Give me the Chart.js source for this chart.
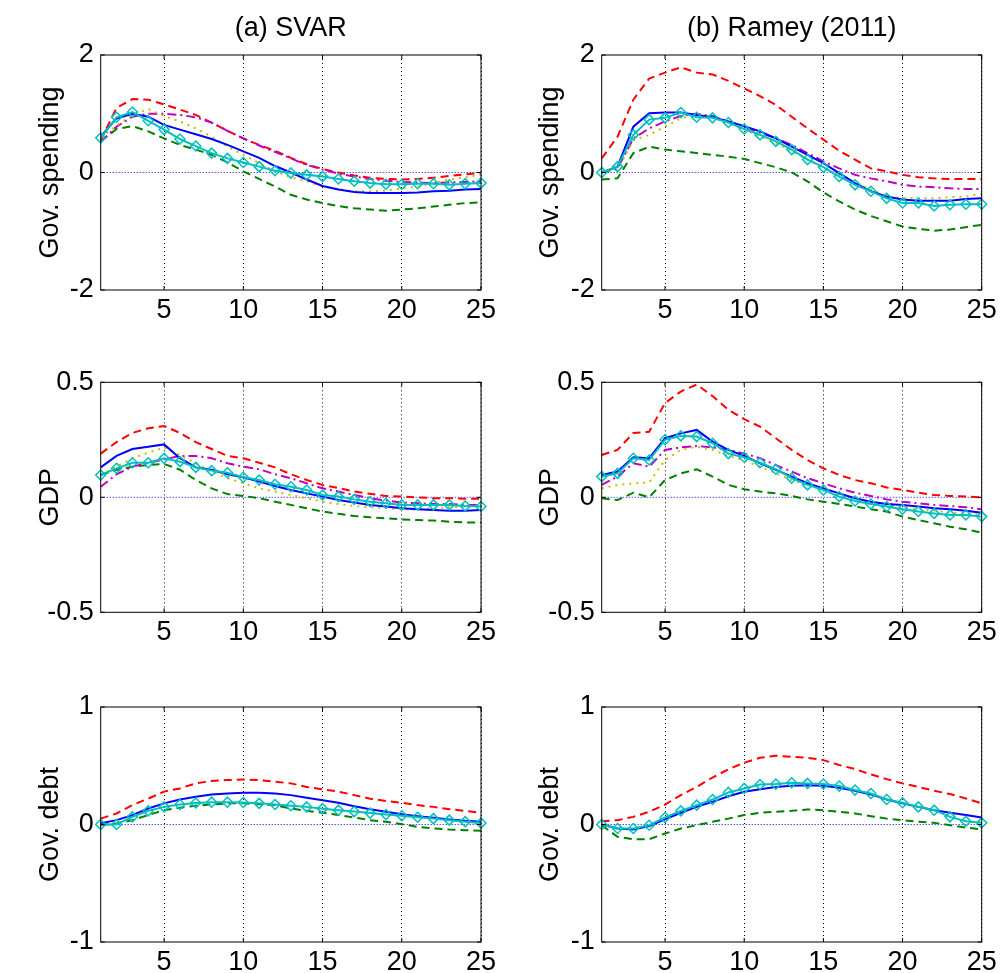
<!DOCTYPE html>
<html>
<head>
<meta charset="utf-8">
<script src="https://cdn.jsdelivr.net/npm/chart.js@4.4.0/dist/chart.umd.min.js"></script>
<style>
  body { margin: 0; background: #fff; }
  #wrap { position: relative; width: 1000px; height: 973px; }
  canvas { position: absolute; }
</style>
</head>
<body>
<div id="wrap">
  <canvas id="c1" width="500" height="330" style="left:0;top:0"></canvas>
  <canvas id="c2" width="500" height="330" style="left:500px;top:0"></canvas>
  <canvas id="c3" width="500" height="330" style="left:0;top:330px"></canvas>
  <canvas id="c4" width="500" height="330" style="left:500px;top:330px"></canvas>
  <canvas id="c5" width="500" height="313" style="left:0;top:660px"></canvas>
  <canvas id="c6" width="500" height="313" style="left:500px;top:660px"></canvas>
</div>
<script>
// horizons and ticks
var horizons = [1,2,3,4,5,6,7,8,9,10,11,12,13,14,15,16,17,18,19,20,21,22,23,24,25];
var xTicks = [5,10,15,20,25];
var govTicks = [-2,0,2];
var gdpTicks = [-0.5,0,0.5];
var debtTicks = [-1,0,1];

// (a) SVAR - gov. spending
var svarGovCyan = [0.59,0.94,1.03,0.88,0.73,0.57,0.45,0.33,0.24,0.17,0.10,0.03,-0.01,-0.04,-0.07,-0.11,-0.15,-0.18,-0.20,-0.20,-0.19,-0.19,-0.21,-0.19,-0.18];
var svarGovBlue = [0.61,0.92,1.0,0.95,0.81,0.73,0.65,0.57,0.47,0.36,0.25,0.11,0.0,-0.12,-0.23,-0.29,-0.33,-0.35,-0.35,-0.35,-0.34,-0.32,-0.31,-0.29,-0.28];
var svarGovYellow = [0.6,0.8,0.98,1.08,0.96,0.87,0.75,0.61,0.44,0.30,0.16,0.02,-0.08,-0.15,-0.24,-0.29,-0.32,-0.32,-0.31,-0.27,-0.24,-0.18,-0.12,-0.08,-0.04];
var svarGovMagenta = [0.52,0.78,0.95,1.0,1.0,0.98,0.94,0.85,0.71,0.58,0.46,0.35,0.24,0.13,0.05,-0.02,-0.07,-0.11,-0.14,-0.16,-0.17,-0.18,-0.17,-0.16,-0.15];
var svarGovGreen = [0.53,0.74,0.79,0.70,0.58,0.47,0.39,0.30,0.17,0.02,-0.11,-0.24,-0.38,-0.46,-0.52,-0.57,-0.61,-0.63,-0.65,-0.63,-0.61,-0.58,-0.55,-0.52,-0.51];
var svarGovRed = [0.55,1.1,1.25,1.24,1.16,1.07,0.98,0.85,0.71,0.58,0.47,0.37,0.25,0.14,0.06,0.0,-0.05,-0.09,-0.11,-0.12,-0.11,-0.09,-0.06,-0.03,-0.01];

// (b) Ramey - gov. spending
var rameyGovCyan = [0,0.1,0.64,0.90,0.93,1.02,0.94,0.93,0.85,0.74,0.64,0.53,0.39,0.22,0.09,-0.07,-0.21,-0.32,-0.44,-0.52,-0.52,-0.57,-0.55,-0.54,-0.54];
var rameyGovBlue = [0,0.1,0.78,1.01,1.02,1.02,0.98,0.94,0.87,0.79,0.70,0.58,0.44,0.30,0.16,-0.01,-0.18,-0.32,-0.41,-0.46,-0.48,-0.48,-0.48,-0.45,-0.44];
var rameyGovYellow = [0,0.05,0.55,0.64,0.78,0.92,1.0,0.94,0.84,0.74,0.62,0.50,0.36,0.22,0.07,-0.04,-0.18,-0.29,-0.40,-0.44,-0.44,-0.44,-0.42,-0.41,-0.36];
var rameyGovMagenta = [0,0.07,0.58,0.75,0.87,0.96,1.0,0.96,0.87,0.78,0.68,0.58,0.47,0.33,0.19,0.07,-0.04,-0.10,-0.15,-0.21,-0.24,-0.25,-0.27,-0.28,-0.28];
var rameyGovGreen = [-0.12,-0.10,0.33,0.44,0.39,0.36,0.33,0.30,0.27,0.23,0.16,0.09,0.0,-0.15,-0.34,-0.49,-0.63,-0.74,-0.83,-0.92,-0.96,-0.99,-0.97,-0.93,-0.89];
var rameyGovRed = [0.24,0.61,1.24,1.60,1.70,1.79,1.70,1.67,1.56,1.43,1.30,1.15,0.95,0.75,0.56,0.37,0.22,0.07,0.02,-0.04,-0.08,-0.10,-0.11,-0.11,-0.11];

// (a) SVAR - GDP
var svarGdpCyan = [0.097,0.126,0.15,0.15,0.17,0.155,0.13,0.116,0.107,0.087,0.075,0.057,0.046,0.032,0.01,0.003,-0.009,-0.019,-0.026,-0.033,-0.033,-0.033,-0.033,-0.038,-0.04];
var svarGdpBlue = [0.13,0.18,0.21,0.22,0.23,0.17,0.13,0.12,0.10,0.087,0.068,0.049,0.032,0.017,0.003,-0.012,-0.023,-0.033,-0.04,-0.048,-0.052,-0.055,-0.058,-0.058,-0.055];
var svarGdpYellow = [0.097,0.133,0.17,0.194,0.217,0.184,0.148,0.112,0.083,0.061,0.039,0.025,0.01,-0.004,-0.019,-0.029,-0.038,-0.043,-0.048,-0.052,-0.052,-0.048,-0.043,-0.04,-0.038];
var svarGdpMagenta = [0.046,0.10,0.133,0.15,0.165,0.18,0.18,0.17,0.148,0.133,0.122,0.10,0.083,0.061,0.039,0.025,0.01,-0.004,-0.014,-0.023,-0.026,-0.029,-0.029,-0.033,-0.033];
var svarGdpGreen = [0.097,0.12,0.133,0.14,0.145,0.12,0.075,0.039,0.014,0.006,-0.004,-0.019,-0.033,-0.048,-0.062,-0.072,-0.081,-0.087,-0.091,-0.096,-0.099,-0.101,-0.106,-0.109,-0.11];
var svarGdpRed = [0.19,0.24,0.28,0.30,0.31,0.28,0.24,0.21,0.18,0.17,0.15,0.13,0.10,0.075,0.054,0.04,0.025,0.015,0.006,0.003,0,-0.004,-0.004,-0.006,-0.006];

// (b) Ramey - GDP
var rameyGdpCyan = [0.09,0.104,0.17,0.162,0.25,0.267,0.264,0.235,0.19,0.174,0.15,0.122,0.083,0.054,0.032,0.003,-0.016,-0.029,-0.04,-0.052,-0.062,-0.07,-0.077,-0.077,-0.084];
var rameyGdpBlue = [0.097,0.112,0.174,0.17,0.257,0.278,0.293,0.242,0.206,0.18,0.148,0.119,0.09,0.061,0.039,0.017,-0.004,-0.019,-0.029,-0.033,-0.04,-0.048,-0.052,-0.058,-0.067];
var rameyGdpYellow = [0.039,0.054,0.061,0.064,0.162,0.206,0.22,0.206,0.18,0.16,0.133,0.104,0.075,0.054,0.032,0.01,-0.009,-0.023,-0.033,-0.043,-0.052,-0.058,-0.067,-0.07,-0.077];
var rameyGdpMagenta = [0.054,0.09,0.148,0.133,0.206,0.217,0.223,0.217,0.206,0.19,0.17,0.14,0.112,0.083,0.061,0.039,0.02,0.006,-0.009,-0.019,-0.026,-0.033,-0.038,-0.043,-0.052];
var rameyGdpGreen = [-0.004,-0.012,0.02,0,0.075,0.104,0.122,0.09,0.054,0.035,0.025,0.017,0.006,-0.009,-0.019,-0.029,-0.04,-0.052,-0.062,-0.084,-0.099,-0.113,-0.128,-0.139,-0.154];
var rameyGdpRed = [0.184,0.206,0.28,0.285,0.41,0.46,0.49,0.44,0.38,0.34,0.307,0.257,0.206,0.162,0.126,0.097,0.075,0.061,0.043,0.032,0.02,0.01,0.006,0.003,0];

// (a) SVAR - gov. debt
var svarDebtCyan = [0,0,0.065,0.116,0.15,0.17,0.183,0.19,0.19,0.187,0.18,0.17,0.16,0.15,0.135,0.122,0.11,0.097,0.085,0.075,0.062,0.05,0.037,0.024,0.012];
var svarDebtBlue = [0.01,0.037,0.08,0.136,0.18,0.213,0.236,0.256,0.264,0.27,0.27,0.264,0.25,0.227,0.207,0.185,0.156,0.13,0.108,0.088,0.071,0.057,0.043,0.031,0.023];
var svarDebtGreen = [-0.006,0.009,0.037,0.08,0.122,0.142,0.16,0.17,0.18,0.18,0.173,0.165,0.136,0.116,0.1,0.08,0.06,0.037,0.023,0.003,-0.02,-0.034,-0.043,-0.048,-0.054];
var svarDebtRed = [0.05,0.094,0.165,0.22,0.28,0.307,0.35,0.37,0.378,0.384,0.378,0.364,0.35,0.32,0.3,0.28,0.25,0.22,0.2,0.185,0.165,0.15,0.13,0.116,0.1];

// (b) Ramey - gov. debt
var rameyDebtCyan = [0,-0.034,-0.034,-0.006,0.06,0.116,0.165,0.213,0.273,0.307,0.34,0.344,0.355,0.35,0.344,0.327,0.293,0.264,0.213,0.185,0.15,0.122,0.065,0.028,0.014];
var rameyDebtBlue = [0,-0.034,-0.043,-0.014,0.043,0.1,0.15,0.193,0.24,0.278,0.3,0.32,0.33,0.335,0.33,0.312,0.287,0.256,0.213,0.18,0.15,0.122,0.1,0.08,0.06];
var rameyDebtGreen = [-0.006,-0.105,-0.125,-0.125,-0.077,-0.034,-0.006,0.023,0.05,0.08,0.1,0.108,0.116,0.128,0.122,0.108,0.094,0.071,0.05,0.037,0.023,0.014,-0.006,-0.026,-0.043];
var rameyDebtRed = [0.028,0.037,0.065,0.108,0.17,0.25,0.32,0.40,0.47,0.526,0.568,0.585,0.577,0.568,0.548,0.506,0.472,0.426,0.386,0.35,0.32,0.287,0.259,0.222,0.18];

var zeroLine = horizons.map(function () { return 0; });

// line styles (matlab-ish)
var styles = {
    cyan: { borderColor: '#00bfbf', borderWidth: 2, pointStyle: 'rectRot', pointRadius: 5,
            pointBorderWidth: 1.5, pointBorderColor: '#00bfbf', pointBackgroundColor: 'rgba(0,0,0,0)', clip: false },
    blue: { borderColor: '#0000ff', borderWidth: 2 },
    yellow: { borderColor: '#bfbf00', borderWidth: 2, borderDash: [2, 5] },
    magenta: { borderColor: '#bf00bf', borderWidth: 2, borderDash: [9, 4, 2, 4] },
    green: { borderColor: '#008000', borderWidth: 2, borderDash: [8, 5] },
    red: { borderColor: '#ff0000', borderWidth: 2, borderDash: [8, 5] },
    zero: { borderColor: '#0000ff', borderWidth: 1, borderDash: [1, 2] }
};

function series(vals, style) {
    var ds = {
        data: horizons.map(function (h, i) { return { x: h, y: vals[i] }; }),
        pointRadius: 0,
        tension: 0,
        fill: false
    };
    return Object.assign(ds, styles[style]);
}

// box around plot + inward ticks
var boxPlugin = {
    id: 'box',
    afterDraw: function (chart) {
        var ctx = chart.ctx, a = chart.chartArea, sx = chart.scales.x, sy = chart.scales.y;
        ctx.save();
        ctx.strokeStyle = '#000';
        ctx.lineWidth = 1;
        ctx.strokeRect(a.left, a.top, a.right - a.left, a.bottom - a.top);
        ctx.beginPath();
        sx.ticks.forEach(function (t) {
            var px = sx.getPixelForValue(t.value);
            ctx.moveTo(px, a.bottom); ctx.lineTo(px, a.bottom - 4);
            ctx.moveTo(px, a.top); ctx.lineTo(px, a.top + 4);
        });
        sy.ticks.forEach(function (t) {
            var py = sy.getPixelForValue(t.value);
            ctx.moveTo(a.left, py); ctx.lineTo(a.left + 4, py);
            ctx.moveTo(a.right, py); ctx.lineTo(a.right - 4, py);
        });
        ctx.stroke();
        ctx.restore();
    }
};

Chart.defaults.font.family = "'Liberation Sans', Arial, sans-serif";
Chart.defaults.font.size = 27;
Chart.defaults.color = '#000';

function makePanel(p) {
    var canvas = document.getElementById(p.id);
    var W = canvas.width, H = canvas.height;
    var datasets = [
        series(p.lines.cyan, 'cyan'),
        series(p.lines.blue, 'blue')
    ];
    if (p.lines.yellow) datasets.push(series(p.lines.yellow, 'yellow'));
    if (p.lines.magenta) datasets.push(series(p.lines.magenta, 'magenta'));
    datasets.push(series(p.lines.green, 'green'));
    datasets.push(series(p.lines.red, 'red'));
    datasets.push(series(zeroLine, 'zero'));

    new Chart(canvas.getContext('2d'), {
        type: 'line',
        data: { datasets: datasets },
        plugins: [boxPlugin],
        options: {
            responsive: false,
            animation: false,
            layout: { padding: { top: p.title ? 0 : p.top, right: W - p.right, left: 0, bottom: 0 } },
            plugins: {
                legend: { display: false },
                tooltip: { enabled: false },
                title: {
                    display: !!p.title,
                    text: p.title || '',
                    fullSize: false,
                    font: { size: 27, weight: 'normal' },
                    padding: { top: 12, bottom: 10.6 }
                }
            },
            scales: {
                x: {
                    type: 'linear',
                    min: 1,
                    max: 25,
                    afterBuildTicks: function (s) { s.ticks = xTicks.map(function (v) { return { value: v }; }); },
                    afterFit: function (s) { s.height = H - p.bottom; s.paddingLeft = 0; s.paddingRight = 0; },
                    ticks: { padding: 4, maxRotation: 0, autoSkip: false, callback: function (v) { return String(v); } },
                    grid: { display: true, color: '#000', lineWidth: 1, drawTicks: false },
                    border: { display: false, dash: [1, 3] }
                },
                y: {
                    min: p.yTicks[0],
                    max: p.yTicks[p.yTicks.length - 1],
                    afterBuildTicks: function (s) { s.ticks = p.yTicks.map(function (v) { return { value: v }; }); },
                    afterFit: function (s) { s.width = p.left; s.paddingTop = 0; s.paddingBottom = 0; },
                    ticks: { padding: 7, callback: function (v) { return String(v); } },
                    grid: { display: false, drawTicks: false },
                    border: { display: false },
                    title: { display: true, text: p.yLabel, font: { size: 27 }, padding: { top: 34, bottom: 0 } }
                }
            }
        }
    });
}

var panels = [
    { id: 'c1', title: '(a) SVAR', yLabel: 'Gov. spending', yTicks: govTicks, left: 100.7, right: 481, top: 55, bottom: 290,
      lines: { cyan: svarGovCyan, blue: svarGovBlue, yellow: svarGovYellow, magenta: svarGovMagenta, green: svarGovGreen, red: svarGovRed } },
    { id: 'c2', title: '(b) Ramey (2011)', yLabel: 'Gov. spending', yTicks: govTicks, left: 101.7, right: 481.7, top: 55, bottom: 290,
      lines: { cyan: rameyGovCyan, blue: rameyGovBlue, yellow: rameyGovYellow, magenta: rameyGovMagenta, green: rameyGovGreen, red: rameyGovRed } },
    { id: 'c3', yLabel: 'GDP', yTicks: gdpTicks, left: 100.7, right: 481, top: 52.3, bottom: 282.3,
      lines: { cyan: svarGdpCyan, blue: svarGdpBlue, yellow: svarGdpYellow, magenta: svarGdpMagenta, green: svarGdpGreen, red: svarGdpRed } },
    { id: 'c4', yLabel: 'GDP', yTicks: gdpTicks, left: 101.7, right: 481.7, top: 52.3, bottom: 282.3,
      lines: { cyan: rameyGdpCyan, blue: rameyGdpBlue, yellow: rameyGdpYellow, magenta: rameyGdpMagenta, green: rameyGdpGreen, red: rameyGdpRed } },
    { id: 'c5', yLabel: 'Gov. debt', yTicks: debtTicks, left: 100.7, right: 481, top: 47, bottom: 282,
      lines: { cyan: svarDebtCyan, blue: svarDebtBlue, green: svarDebtGreen, red: svarDebtRed } },
    { id: 'c6', yLabel: 'Gov. debt', yTicks: debtTicks, left: 101.7, right: 481.7, top: 47, bottom: 282,
      lines: { cyan: rameyDebtCyan, blue: rameyDebtBlue, green: rameyDebtGreen, red: rameyDebtRed } }
];

panels.forEach(makePanel);
</script>
</body>
</html>
